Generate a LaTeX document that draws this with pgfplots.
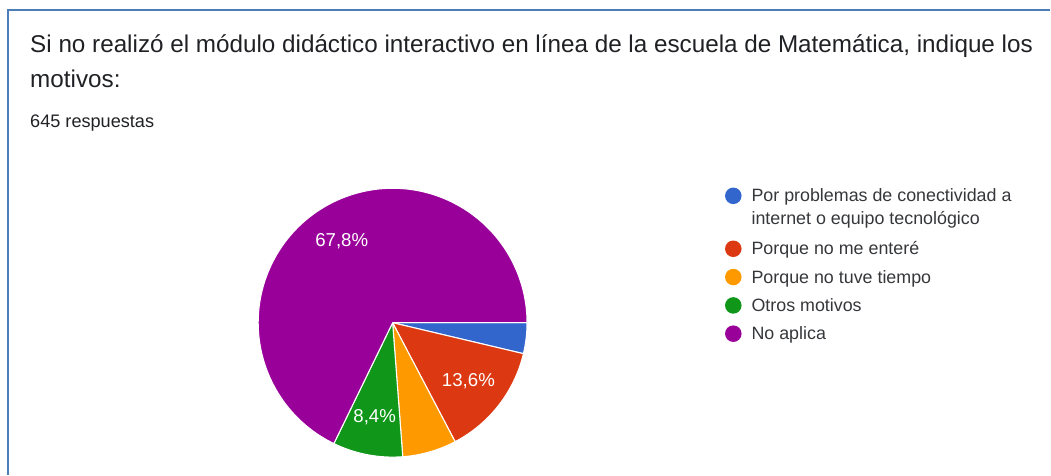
\documentclass[border=0pt]{standalone}
\usepackage{fontspec}
\setmainfont{Liberation Sans}
\usepackage{pgfplots}
\usepackage{pgfplotstable}
\pgfplotsset{compat=1.18}

\definecolor{gblue}{HTML}{3366CC}
\definecolor{gred}{HTML}{DC3912}
\definecolor{gorange}{HTML}{FF9900}
\definecolor{ggreen}{HTML}{109618}
\definecolor{gpurple}{HTML}{990099}
\definecolor{frame}{HTML}{4A7EBB}
\definecolor{ink}{HTML}{202124}

% share of answers, clockwise from 3 o'clock
\pgfplotstableread[col sep=comma]{
value,col
3.7,gblue
13.6,gred
6.5,gorange
8.4,ggreen
67.8,gpurple
}\piedata

% start / end / label angles of every slice
\def\cum{0}
\foreach \i in {0,...,4}{%
  \pgfplotstablegetelem{\i}{value}\of\piedata
  \pgfmathsetmacro\va{\pgfplotsretval}%
  \pgfmathsetmacro\sa{3.6*\cum}%
  \pgfmathsetmacro\ea{3.6*(\cum+\va)}%
  \pgfmathsetmacro\ma{(\sa+\ea)/2}%
  \pgfmathsetmacro\nc{\cum+\va}%
  \global\let\cum\nc
  \pgfmathsetmacro\lx{393+96*cos(\ma)}%
  \pgfmathsetmacro\ly{323+96*sin(\ma)}%
  \expandafter\xdef\csname pieS\i\endcsname{\sa}%
  \expandafter\xdef\csname pieE\i\endcsname{\ea}%
  \expandafter\xdef\csname pieV\i\endcsname{\va}%
  \expandafter\xdef\csname pieLX\i\endcsname{\lx}%
  \expandafter\xdef\csname pieLY\i\endcsname{\ly}%
  \pgfplotstablegetelem{\i}{col}\of\piedata
  \expandafter\xdef\csname pieC\i\endcsname{\pgfplotsretval}%
}

\newcommand\fs[1]{\fontsize{#1}{#1}\selectfont}

\begin{document}
\begin{tikzpicture}
\begin{axis}[
    hide axis, x=0.75pt, y=0.75pt,
    xmin=0, xmax=1051, ymin=0, ymax=475,
    y dir=reverse, clip=false,
]
\path (axis cs:0,0) rectangle (axis cs:1051,475);

% screenshot frame
\draw[frame, line width=1.5pt] (axis cs:7.8,475) -- (axis cs:7.8,9.8) -- (axis cs:1051,9.8);

% title
\node[anchor=base west, text=ink, font=\fs{18.2pt}, inner sep=0pt] at (axis cs:30,53)
  {Si no realizó el módulo didáctico interactivo en línea de la escuela de Matemática, indique los};
\node[anchor=base west, text=ink, font=\fs{18.2pt}, inner sep=0pt] at (axis cs:30,88) {motivos:};
\node[anchor=base west, text=ink, font=\fs{13.6pt}, inner sep=0pt] at (axis cs:30,128) {645 respuestas};

% slices
\pgfplotsinvokeforeach{0,...,4}{%
  \edef\temp{\noexpand\fill[\csname pieC#1\endcsname, draw=white, line width=0.8pt, line join=round]
    (axis cs:393,323) -- ++(-\csname pieS#1\endcsname:100.9pt)
    arc[start angle=-\csname pieS#1\endcsname, end angle=-\csname pieE#1\endcsname, radius=100.9pt] -- cycle;}%
  \temp
}

% percentage labels (small slices carry none)
\pgfplotsinvokeforeach{1,3,4}{%
  \edef\temp{\noexpand\node[text=white, font=\noexpand\fs{14pt}, inner sep=0pt]
    at (axis cs:\csname pieLX#1\endcsname,\csname pieLY#1\endcsname)
    {\noexpand\pgfmathprintnumber[fixed, fixed zerofill, precision=1, use comma, assume math mode=true]{\csname pieV#1\endcsname}\noexpand\%};}%
  \temp
}

% legend
\fill[gblue]   (axis cs:734,196) circle[radius=6.2pt];
\fill[gred]    (axis cs:734,249) circle[radius=6.2pt];
\fill[gorange] (axis cs:734,277.3) circle[radius=6.2pt];
\fill[ggreen]  (axis cs:734,305.7) circle[radius=6.2pt];
\fill[gpurple] (axis cs:734,334) circle[radius=6.2pt];
\begin{scope}[every node/.style={anchor=base west, text=ink!90, font=\fs{13.4pt}, inner sep=0pt}]
\node at (axis cs:752,202) {Por problemas de conectividad a};
\node at (axis cs:752,225) {internet o equipo tecnológico};
\node at (axis cs:752,255) {Porque no me enteré};
\node at (axis cs:752,283.3) {Porque no tuve tiempo};
\node at (axis cs:752,311.7) {Otros motivos};
\node at (axis cs:752,340) {No aplica};
\end{scope}
\end{axis}
\end{tikzpicture}
\end{document}
